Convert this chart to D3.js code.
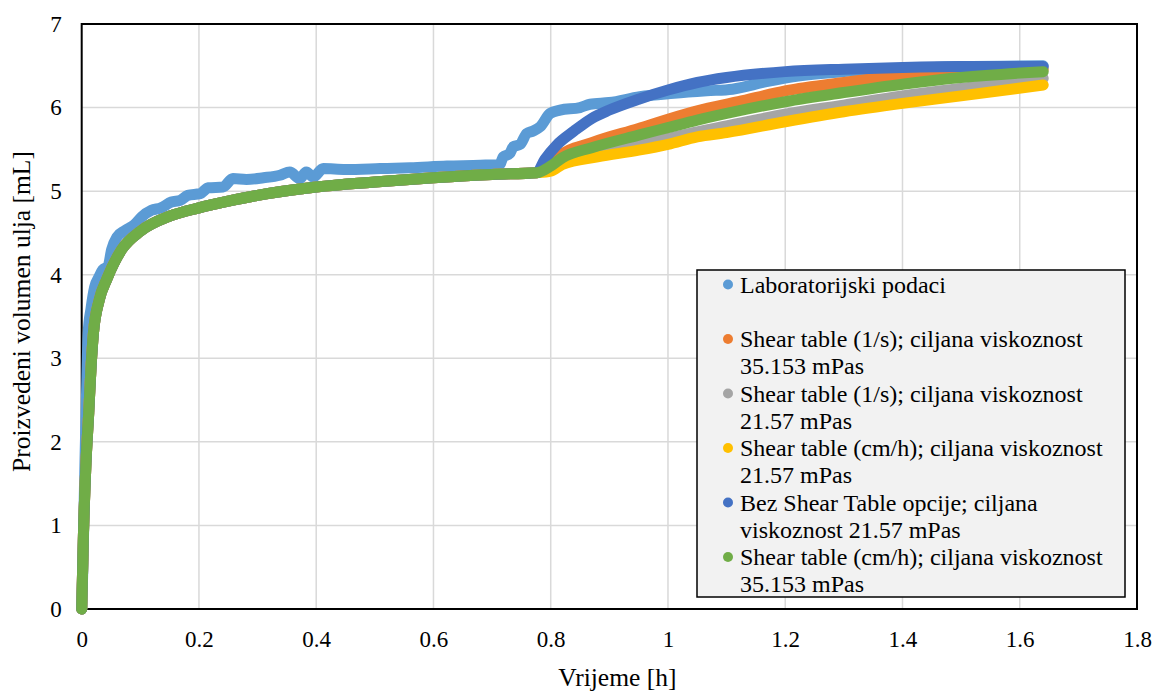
<!DOCTYPE html>
<html>
<head>
<meta charset="utf-8">
<script src="https://cdn.jsdelivr.net/npm/d3@7/dist/d3.min.js"></script>
<style>
  html, body { margin: 0; padding: 0; background: #fff; }
  svg text { font-family: "Liberation Serif", "Times New Roman", Times, serif; fill: #000; }
</style>
</head>
<body>
<svg id="chart" width="1156" height="691"></svg>
<script>
// ---- data ----
const xTicks = [0, 0.2, 0.4, 0.6, 0.8, 1, 1.2, 1.4, 1.6, 1.8];
const yTicks = [0, 1, 2, 3, 4, 5, 6, 7];

// common simulated curve before the split at ~0.78 h
const simT = [0, 0.003, 0.007, 0.012, 0.016, 0.02, 0.03, 0.043, 0.068, 0.1, 0.15, 0.2, 0.25, 0.3, 0.4, 0.5, 0.6, 0.7, 0.776];
const simV = [0, 0.9, 1.7, 2.35, 2.9, 3.3, 3.7, 3.95, 4.3, 4.52, 4.7, 4.8, 4.88, 4.95, 5.05, 5.11, 5.16, 5.2, 5.22];

const labT = [0, 0.002, 0.004, 0.006, 0.008, 0.011, 0.016, 0.022, 0.03, 0.036, 0.045, 0.051, 0.06, 0.074, 0.09, 0.102, 0.119, 0.135, 0.153, 0.168, 0.181, 0.202, 0.216, 0.241, 0.258, 0.281, 0.31, 0.338, 0.355, 0.372, 0.383, 0.395, 0.412, 0.45, 0.509, 0.56, 0.623, 0.68, 0.713, 0.719, 0.73, 0.736, 0.748, 0.759, 0.77, 0.782, 0.799, 0.816, 0.85, 0.867, 0.9, 0.952, 1.01, 1.066, 1.11, 1.168, 1.225, 1.3, 1.4, 1.5, 1.64];
const labV = [0, 0.5, 1.2, 1.9, 2.5, 3.3, 3.6, 3.85, 3.98, 4.06, 4.1, 4.3, 4.45, 4.53, 4.6, 4.69, 4.77, 4.8, 4.87, 4.89, 4.95, 4.97, 5.04, 5.05, 5.15, 5.14, 5.16, 5.19, 5.23, 5.15, 5.23, 5.17, 5.27, 5.26, 5.27, 5.28, 5.3, 5.31, 5.32, 5.41, 5.45, 5.53, 5.56, 5.69, 5.72, 5.77, 5.93, 5.97, 6.0, 6.04, 6.06, 6.13, 6.17, 6.2, 6.22, 6.31, 6.38, 6.43, 6.46, 6.49, 6.5];

const orangeT = [0.8, 0.81, 0.87, 0.95, 1.0, 1.05, 1.12, 1.2, 1.3, 1.4, 1.5, 1.64];
const orangeV = [5.32, 5.4, 5.58, 5.75, 5.86, 5.96, 6.07, 6.2, 6.3, 6.38, 6.43, 6.46];

const grayT = [0.8, 0.82, 0.88, 0.95, 1.0, 1.05, 1.1, 1.2, 1.3, 1.4, 1.5, 1.64];
const grayV = [5.28, 5.36, 5.46, 5.56, 5.63, 5.71, 5.78, 5.92, 6.03, 6.14, 6.23, 6.35];

const yellowT = [0.8, 0.82, 0.88, 0.95, 1.0, 1.05, 1.1, 1.2, 1.3, 1.4, 1.5, 1.64];
const yellowV = [5.24, 5.32, 5.41, 5.49, 5.56, 5.65, 5.7, 5.83, 5.95, 6.05, 6.14, 6.27];

const blueT = [0.79, 0.81, 0.84, 0.87, 0.9, 0.95, 1.0, 1.05, 1.1, 1.2, 1.3, 1.4, 1.5, 1.64];
const blueV = [5.38, 5.55, 5.72, 5.87, 5.97, 6.1, 6.21, 6.3, 6.36, 6.43, 6.46, 6.48, 6.49, 6.49];

const greenT = [0.8, 0.82, 0.87, 0.95, 1.0, 1.05, 1.12, 1.2, 1.3, 1.4, 1.5, 1.64];
const greenV = [5.3, 5.4, 5.52, 5.67, 5.76, 5.85, 5.96, 6.07, 6.18, 6.28, 6.36, 6.43];

const seriesNames = [
  ["Laboratorijski podaci"],
  ["Shear table (1/s); ciljana viskoznost", "35.153 mPas"],
  ["Shear table (1/s); ciljana viskoznost", "21.57 mPas"],
  ["Shear table (cm/h); ciljana viskoznost", "21.57 mPas"],
  ["Bez Shear Table opcije; ciljana", "viskoznost 21.57 mPas"],
  ["Shear table (cm/h); ciljana viskoznost", "35.153 mPas"]
];
const seriesColors = ["#5b9bd5", "#ed7d31", "#a5a5a5", "#ffc000", "#4472c4", "#70ad47"];

// ---- build series ----
function zip(ts, vs) { return ts.map((t, i) => ({ t, v: vs[i] })); }
const base = zip(simT, simV);
const series = [
  zip(labT, labV),
  base.concat(zip(orangeT, orangeV)),
  base.concat(zip(grayT, grayV)),
  base.concat(zip(yellowT, yellowV)),
  base.concat(zip(blueT, blueV)),
  base.concat(zip(greenT, greenV))
];

// ---- layout ----
const svg = d3.select("#chart");
const L = 81.7, R = 1137, T = 24, B = 609;
const x = d3.scaleLinear().domain([0, 1.8]).range([L, R]);
const y = d3.scaleLinear().domain([0, 7]).range([B, T]);

// gridlines
svg.append("g").selectAll("line").data(xTicks.slice(1, -1)).join("line")
  .attr("x1", d => x(d)).attr("x2", d => x(d)).attr("y1", T).attr("y2", B)
  .attr("stroke", "#d9d9d9").attr("stroke-width", 1.5);
svg.append("g").selectAll("line").data(yTicks.slice(1, -1)).join("line")
  .attr("y1", d => y(d)).attr("y2", d => y(d)).attr("x1", L).attr("x2", R)
  .attr("stroke", "#d9d9d9").attr("stroke-width", 1.5);

// frame
svg.append("rect").attr("x", L).attr("y", T).attr("width", R - L).attr("height", B - T)
  .attr("fill", "none").attr("stroke", "#000").attr("stroke-width", 2);

// series
const line = d3.line().x(d => x(d.t)).y(d => y(d.v)).curve(d3.curveMonotoneX);
const sg = svg.append("g");
series.forEach((s, i) => {
  sg.append("path").datum(s).attr("d", line)
    .attr("fill", "none").attr("stroke", seriesColors[i])
    .attr("stroke-width", 11).attr("stroke-linecap", "round").attr("stroke-linejoin", "round");
});

// axes (labels only, via d3 axis)
const xAxis = svg.append("g").attr("transform", `translate(0,${B})`)
  .call(d3.axisBottom(x).tickValues(xTicks).tickSize(0).tickPadding(22).tickFormat(d3.format("")));
xAxis.select(".domain").remove();
xAxis.selectAll("text").attr("font-size", 23).attr("fill", "#000");

const yAxis = svg.append("g").attr("transform", `translate(${L},0)`)
  .call(d3.axisLeft(y).tickValues(yTicks).tickSize(0).tickPadding(20).tickFormat(d3.format("")));
yAxis.select(".domain").remove();
yAxis.selectAll("text").attr("font-size", 23).attr("fill", "#000");

// axis titles
svg.append("text").attr("x", (L + R) / 2 + 8).attr("y", 686).attr("text-anchor", "middle")
  .attr("font-size", 25.5).text("Vrijeme [h]");
svg.append("text").attr("transform", `translate(30,311.5) rotate(-90)`)
  .attr("text-anchor", "middle").attr("font-size", 25.5).text("Proizvedeni volumen ulja [mL]");

// legend
const lg = svg.append("g");
lg.append("rect").attr("x", 697).attr("y", 270).attr("width", 428).attr("height", 327)
  .attr("fill", "#f2f2f2").attr("stroke", "#000").attr("stroke-width", 1.5);
const markerY = [284.5, 339, 393.5, 448, 502.5, 557];
seriesNames.forEach((lines, i) => {
  lg.append("circle").attr("cx", 728).attr("cy", markerY[i]).attr("r", 5).attr("fill", seriesColors[i]);
  lines.forEach((txt, j) => {
    lg.append("text").attr("x", 740).attr("y", markerY[i] + 8 + j * 27.3)
      .attr("font-size", 24).text(txt);
  });
});
</script>
</body>
</html>
